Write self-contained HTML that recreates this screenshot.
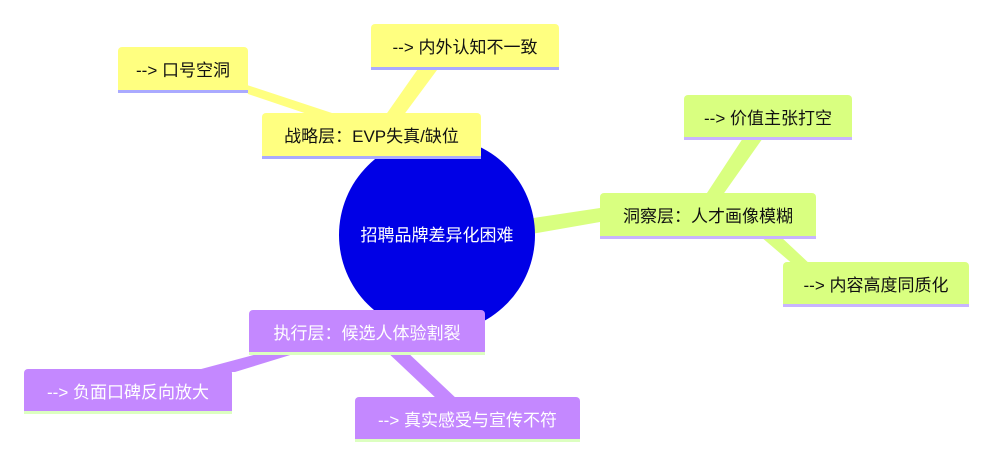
<!DOCTYPE html>
<html><head><meta charset="utf-8"><style>
body{margin:0;width:992px;height:455px;background:#fff;position:relative;overflow:hidden;font-family:"Liberation Sans","Noto Sans CJK SC",sans-serif;}
.b{position:absolute;box-sizing:border-box;border-radius:4px 4px 0 0;font-size:17px;display:flex;align-items:center;justify-content:center;white-space:nowrap;}
.y{background:#ffff80;border-bottom:3px solid #aaaaff;color:#111;}
.g{background:#d9ff80;border-bottom:3px solid #c8b4ff;color:#111;}
.p{background:#c488ff;border-bottom:3px solid #dcffc0;color:#fff;}
svg{position:absolute;left:0;top:0}
</style></head><body>
<svg width="992" height="455">
<polygon points="244,84 248,94 340,125 335,114" fill="#ffff80"/>
<polygon points="420,66 440,66 400,120 385,116" fill="#ffff80"/>
<polygon points="520,220 600,208 600,222 520,236" fill="#d9ff80"/>
<polygon points="745,135 765,135 722,196 705,196" fill="#d9ff80"/>
<polygon points="760,236 780,236 812,266 795,266" fill="#d9ff80"/>
<polygon points="265,352 300,352 235,372 190,372" fill="#c488ff"/>
<polygon points="385,350 405,350 458,400 438,400" fill="#c488ff"/>
<circle cx="437" cy="235" r="98" fill="#0000e6"/>
<text x="437" y="241" font-size="17" fill="#fff" text-anchor="middle" font-family="Liberation Sans, Noto Sans CJK SC, sans-serif">招聘品牌差异化困难</text>
</svg>
<div class="b y" style="left:118px;top:47px;width:130px;height:46px">--&gt; 口号空洞</div>
<div class="b y" style="left:371px;top:24px;width:188px;height:46px">--&gt; 内外认知不一致</div>
<div class="b y" style="left:262px;top:113px;width:219px;height:46px">战略层：EVP失真/缺位</div>
<div class="b g" style="left:684px;top:95px;width:168px;height:45px">--&gt; 价值主张打空</div>
<div class="b g" style="left:600px;top:193px;width:216px;height:46px">洞察层：人才画像模糊</div>
<div class="b g" style="left:783px;top:262px;width:186px;height:45px">--&gt; 内容高度同质化</div>
<div class="b p" style="left:249px;top:310px;width:236px;height:45px">执行层：候选人体验割裂</div>
<div class="b p" style="left:24px;top:369px;width:208px;height:45px">--&gt; 负面口碑反向放大</div>
<div class="b p" style="left:355px;top:397px;width:225px;height:45px">--&gt; 真实感受与宣传不符</div>
</body></html>
